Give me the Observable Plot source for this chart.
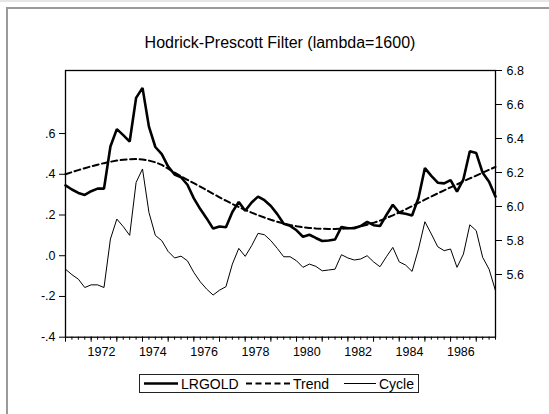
<!DOCTYPE html>
<html><head><meta charset="utf-8">
<script src="https://cdn.jsdelivr.net/npm/d3@7"></script>
<script src="https://cdn.jsdelivr.net/npm/@observablehq/plot@0.6"></script>
<style>
body{margin:0;background:#fff;overflow:hidden;font-family:"Liberation Sans",Arial,sans-serif;}
#wrap{position:relative;width:549px;height:414px;overflow:hidden;background:#fff;}
#wrap svg.plot{position:absolute;left:0;top:0;}
#topline{position:absolute;left:0;top:0;width:549px;height:2px;background:#e6e6e6;}
#frame{position:absolute;left:6px;top:7px;width:620px;height:500px;border-left:2px solid #9a9a9a;border-top:2px solid #9a9a9a;}
#title{position:absolute;left:80px;width:400px;top:33px;line-height:20px;text-align:center;font-size:16px;color:#000;}
#legend{position:absolute;left:139px;top:374px;width:280px;height:19px;box-sizing:border-box;border:1px solid #222;background:#fff;}
#legend svg{position:absolute;left:0;top:0;}
</style></head><body><div id="wrap"><div id="topline"></div><div id="frame"></div></div>
<script>
const title = "Hodrick-Prescott Filter (lambda=1600)";
const startYear = 1971; // first observation 1971Q1, quarterly
const seriesNames = ["LRGOLD", "Trend", "Cycle"];

const lrgold = [6.124,6.100,6.080,6.068,6.090,6.105,6.105,6.353,6.455,6.420,
6.382,6.639,6.698,6.470,6.350,6.308,6.235,6.188,6.172,6.128,
6.048,5.985,5.930,5.870,5.882,5.878,5.968,6.027,5.975,6.024,
6.058,6.037,6.003,5.955,5.898,5.886,5.860,5.822,5.834,5.815,
5.797,5.800,5.806,5.880,5.872,5.872,5.885,5.910,5.890,5.885,
5.950,6.010,5.963,5.957,5.947,6.050,6.226,6.180,6.140,6.136,
6.155,6.087,6.160,6.325,6.314,6.198,6.145,6.058];

const trend = [6.190,6.202,6.214,6.225,6.236,6.246,6.255,6.263,6.270,6.275,
6.278,6.279,6.277,6.270,6.260,6.245,6.222,6.200,6.178,6.157,
6.137,6.117,6.096,6.075,6.054,6.034,6.015,5.997,5.980,5.964,
5.949,5.935,5.922,5.910,5.900,5.891,5.884,5.878,5.874,5.871,
5.869,5.868,5.868,5.869,5.872,5.877,5.884,5.893,5.904,5.917,
5.932,5.948,5.965,5.983,6.002,6.021,6.040,6.059,6.077,6.095,
6.113,6.130,6.148,6.165,6.182,6.199,6.216,6.233];

const cycle = [-0.066,-0.093,-0.115,-0.156,-0.143,-0.143,-0.156,0.082,0.180,0.143,
0.100,0.360,0.426,0.213,0.100,0.074,0.021,-0.011,-0.002,-0.025,
-0.082,-0.128,-0.164,-0.193,-0.169,-0.152,-0.041,0.036,-0.003,0.049,
0.110,0.103,0.074,0.036,-0.005,-0.005,-0.025,-0.057,-0.041,-0.052,
-0.074,-0.070,-0.066,0.005,-0.011,-0.021,-0.016,0.000,-0.030,-0.054,
-0.005,0.041,-0.030,-0.046,-0.077,0.033,0.167,0.107,0.044,0.025,
0.033,-0.057,0.008,0.152,0.123,-0.008,-0.066,-0.172];

const leftTicks = [-0.4,-0.2,0,0.2,0.4,0.6];
const rightTicks = [5.6,5.8,6.0,6.2,6.4,6.6,6.8];
const yearLabels = [1972,1974,1976,1978,1980,1982,1984,1986];

const leftDomain = [-0.4, 0.9095];
const rightDomain = [5.2312, 6.8];
const toLeft = d3.scaleLinear(rightDomain, leftDomain);

const n = lrgold.length;
const idx = d3.range(n);
const rows = idx.map(i => ({i, lrgold: toLeft(lrgold[i]), trend: toLeft(trend[i]), cycle: cycle[i]}));

const quarterTicks = idx;
const yearTicks = idx.filter(i => i % 4 === 0);
const labelOffset = 1.6;
const labelPos = yearLabels.map(y => (y - startYear) * 4 + labelOffset);
const labelText = new Map(labelPos.map((p, k) => [p, String(yearLabels[k])]));
const rightPos = rightTicks.map(v => toLeft(v));
const rightText = new Map(rightPos.map((p, k) => [p, rightTicks[k].toFixed(1)]));
const leftFmt = d => (d < -1e-9 ? "-" : "") + "." + Math.round(Math.abs(d) * 10);

const chart = Plot.plot({
  width: 549, height: 414,
  marginLeft: 65, marginRight: 54, marginTop: 70, marginBottom: 77.3,
  style: {background: "transparent", fontFamily: "'Liberation Sans', Arial, sans-serif", fontSize: "12.5px", color: "#000"},
  x: {domain: [0, n - 1], axis: null, label: null},
  y: {domain: leftDomain, axis: null, label: null},
  marks: [
    Plot.axisX(quarterTicks, {tickSize: 3, tickFormat: () => "", label: null, strokeWidth: 1}),
    Plot.axisX(yearTicks, {tickSize: 5, tickFormat: () => "", label: null, strokeWidth: 1}),
    Plot.axisX(labelPos, {tickSize: 0, tickPadding: 10, tickFormat: d => labelText.get(d), label: null, fontSize: 12.5}),
    Plot.axisY(leftTicks, {anchor: "left", tickSize: 6, tickPadding: 4, tickFormat: leftFmt, label: null, fontSize: 12.5}),
    Plot.axisY(rightPos, {anchor: "right", tickSize: 6, tickPadding: 5, tickFormat: d => rightText.get(d), label: null, fontSize: 12.5}),
    Plot.line(rows, {x: "i", y: "cycle", stroke: "#000", strokeWidth: 1}),
    Plot.line(rows, {x: "i", y: "trend", stroke: "#000", strokeWidth: 2, strokeDasharray: "6,3.5"}),
    Plot.line(rows, {x: "i", y: "lrgold", stroke: "#000", strokeWidth: 2.6, strokeLinejoin: "miter"}),
    Plot.frame({stroke: "#000", strokeWidth: 1.3})
  ]
});

const wrap = document.getElementById("wrap");
wrap.insertBefore(chart, wrap.firstChild);

const t = document.createElement("div");
t.id = "title"; t.textContent = title;
wrap.appendChild(t);

// legend
const legendStyles = [
  {w: 2.6, dash: null, x0: 4, x1: 38, tx: 41},
  {w: 2, dash: "6,3.5", x0: 106, x1: 151, tx: 153},
  {w: 1, dash: null, x0: 204, x1: 236, tx: 239}
];
const lg = document.createElement("div");
lg.id = "legend";
const ns = "http://www.w3.org/2000/svg";
const svg = document.createElementNS(ns, "svg");
svg.setAttribute("width", 278); svg.setAttribute("height", 17);
seriesNames.forEach((name, k) => {
  const s = legendStyles[k];
  const ln = document.createElementNS(ns, "line");
  ln.setAttribute("x1", s.x0); ln.setAttribute("x2", s.x1);
  ln.setAttribute("y1", 8.5); ln.setAttribute("y2", 8.5);
  ln.setAttribute("stroke", "#000"); ln.setAttribute("stroke-width", s.w);
  if (s.dash) ln.setAttribute("stroke-dasharray", s.dash);
  svg.appendChild(ln);
  const tx = document.createElementNS(ns, "text");
  tx.setAttribute("x", s.tx); tx.setAttribute("y", 13.5);
  tx.setAttribute("font-size", "14"); tx.setAttribute("font-family", "'Liberation Sans', Arial, sans-serif");
  tx.textContent = name;
  svg.appendChild(tx);
});
lg.appendChild(svg);
wrap.appendChild(lg);
</script>
</body></html>
